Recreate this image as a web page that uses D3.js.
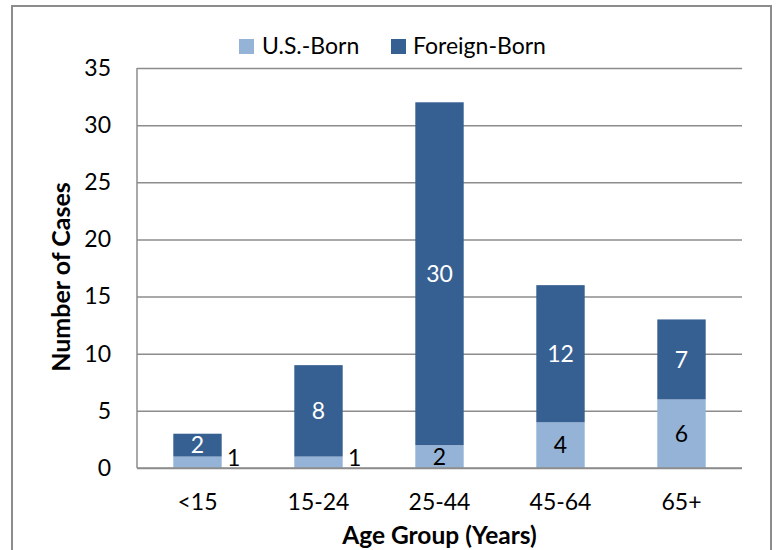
<!DOCTYPE html>
<html>
<head>
<meta charset="utf-8">
<script src="https://cdn.jsdelivr.net/npm/d3@7"></script>
<style>
  html, body { margin: 0; padding: 0; background: #fff; }
  svg { display: block; }
  text { font-family: Lato, "Open Sans", sans-serif; }
</style>
</head>
<body>
<svg id="chart" width="776" height="550"></svg>
<script>
const categories = ["<15", "15-24", "25-44", "45-64", "65+"];
const usBorn = [1, 1, 2, 4, 6];
const foreignBorn = [2, 8, 30, 12, 7];
const seriesNames = ["U.S.-Born", "Foreign-Born"];
const yTicks = [0, 5, 10, 15, 20, 25, 30, 35];
const usLabelOutside = [true, true, false, false, false];

const colors = { us: "#95B3D7", foreign: "#376092", grid: "#8C8C8C", border: "#8C8C8C" };

const svg = d3.select("#chart");
const plot = { left: 137, right: 742, top: 68, bottom: 468 };

// outer border (bottom edge lies beyond the image)
svg.append("rect")
  .attr("x", 12).attr("y", 6).attr("width", 759).attr("height", 600)
  .attr("fill", "#fff").attr("stroke", colors.border).attr("stroke-width", 2);

const x = d3.scaleBand().domain(categories).range([plot.left, plot.right]).paddingInner(0.6).paddingOuter(0.3);
const y = d3.scaleLinear().domain([0, 35]).range([plot.bottom, plot.top]);

// gridlines
const yAxis = d3.axisLeft(y).tickValues(yTicks).tickSize(-(plot.right - plot.left)).tickPadding(26);
const gy = svg.append("g").attr("transform", `translate(${plot.left},0)`).call(yAxis);
gy.select(".domain").remove();
gy.selectAll(".tick line").attr("stroke", colors.grid).attr("stroke-width", 1.5);
gy.selectAll(".tick text").attr("font-size", 23).attr("fill", "#000").attr("font-family", "Lato");

// left axis line
svg.append("line").attr("x1", plot.left).attr("x2", plot.left)
  .attr("y1", plot.top).attr("y2", plot.bottom)
  .attr("stroke", colors.grid).attr("stroke-width", 1.5);

// bars
const g = svg.append("g");
categories.forEach((c, i) => {
  g.append("rect").attr("x", x(c)).attr("width", x.bandwidth())
    .attr("y", y(usBorn[i])).attr("height", y(0) - y(usBorn[i]))
    .attr("fill", colors.us);
  g.append("rect").attr("x", x(c)).attr("width", x.bandwidth())
    .attr("y", y(usBorn[i] + foreignBorn[i])).attr("height", y(usBorn[i]) - y(usBorn[i] + foreignBorn[i]))
    .attr("fill", colors.foreign);
});

// x axis line
svg.append("line").attr("x1", plot.left).attr("x2", plot.right)
  .attr("y1", plot.bottom).attr("y2", plot.bottom)
  .attr("stroke", colors.grid).attr("stroke-width", 1.5);

// x tick labels
const xAxis = d3.axisBottom(x).tickSize(0).tickPadding(26);
const gx = svg.append("g").attr("transform", `translate(0,${plot.bottom})`).call(xAxis);
gx.select(".domain").remove();
gx.selectAll(".tick text").attr("font-size", 23).attr("fill", "#000").attr("font-family", "Lato");

// data labels
categories.forEach((c, i) => {
  const cx = x(c) + x.bandwidth() / 2;
  svg.append("text").attr("x", cx)
    .attr("y", y(usBorn[i] + foreignBorn[i] / 2))
    .attr("dy", "0.36em").attr("text-anchor", "middle")
    .attr("font-size", 23).attr("fill", "#fff").text(foreignBorn[i]);
  if (usLabelOutside[i]) {
    svg.append("text").attr("x", x(c) + x.bandwidth() + 12)
      .attr("y", y(0) - 2)
      .attr("text-anchor", "middle")
      .attr("font-size", 23).attr("fill", "#000").text(usBorn[i]);
  } else {
    svg.append("text").attr("x", cx)
      .attr("y", y(usBorn[i] / 2))
      .attr("dy", "0.36em").attr("text-anchor", "middle")
      .attr("font-size", 23).attr("fill", "#000").text(usBorn[i]);
  }
});

// axis titles
svg.append("text").attr("x", (plot.left + plot.right) / 2).attr("y", 544)
  .attr("text-anchor", "middle").attr("font-size", 24.5).attr("font-weight", "bold")
  .attr("fill", "#000").text("Age Group (Years)");
svg.append("text")
  .attr("transform", `translate(70,${(plot.top + plot.bottom) / 2 + 9}) rotate(-90)`)
  .attr("text-anchor", "middle").attr("font-size", 25).attr("font-weight", "bold")
  .attr("fill", "#000").text("Number of Cases");

// legend
const legendItems = [
  { name: seriesNames[0], color: colors.us, sx: 239, tx: 262 },
  { name: seriesNames[1], color: colors.foreign, sx: 391, tx: 413 }
];
legendItems.forEach(d => {
  svg.append("rect").attr("x", d.sx).attr("y", 39).attr("width", 15).attr("height", 15).attr("fill", d.color);
  svg.append("text").attr("x", d.tx).attr("y", 54).attr("font-size", 23).attr("fill", "#000").text(d.name);
});
</script>
</body>
</html>
